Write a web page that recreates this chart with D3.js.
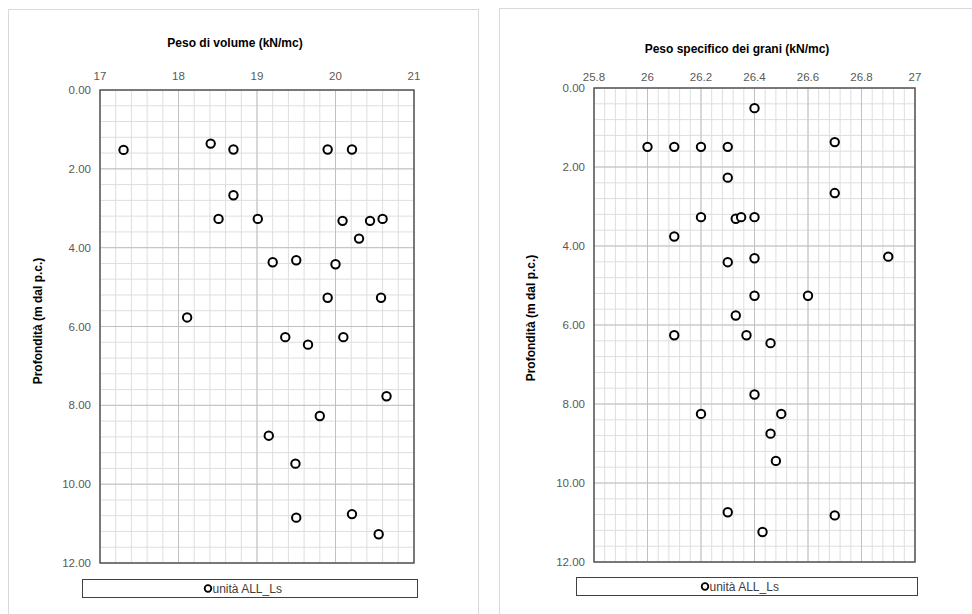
<!DOCTYPE html>
<html>
<head>
<meta charset="utf-8">
<script src="https://cdn.jsdelivr.net/npm/d3@7"></script>
<style>
  body { margin: 0; background: #fff; }
  text { font-family: "Liberation Sans", Arial, sans-serif; }
</style>
</head>
<body>
<script>
// Peso di volume (kN/mc) vs profondità
const volX = [17.3, 18.41, 18.7, 19.9, 20.21, 18.7, 18.51, 19.01, 20.09, 20.44, 20.6, 20.3, 19.2, 19.5, 20.0,
              19.9, 20.58, 18.11, 19.36, 20.1, 19.65, 20.65, 19.8, 19.15, 19.49, 19.5, 20.21, 20.55];
const volDepth = [1.52, 1.36, 1.51, 1.51, 1.51, 2.67, 3.27, 3.27, 3.32, 3.32, 3.27, 3.77, 4.37, 4.32, 4.42,
                  5.27, 5.27, 5.77, 6.27, 6.27, 6.46, 7.77, 8.27, 8.77, 9.48, 10.85, 10.76, 11.27];

// Peso specifico dei grani (kN/mc) vs profondità
const graniX = [26.4, 26.0, 26.1, 26.2, 26.3, 26.7, 26.3, 26.7, 26.2, 26.33, 26.35, 26.4, 26.1, 26.3, 26.4, 26.9,
                26.4, 26.6, 26.33, 26.1, 26.37, 26.46, 26.4, 26.2, 26.5, 26.46, 26.48, 26.3, 26.7, 26.43];
const graniDepth = [0.51, 1.49, 1.49, 1.49, 1.49, 1.37, 2.27, 2.66, 3.27, 3.31, 3.27, 3.27, 3.76, 4.41, 4.31, 4.27,
                    5.26, 5.26, 5.76, 6.26, 6.26, 6.46, 7.76, 8.25, 8.25, 8.75, 9.44, 10.74, 10.82, 11.24];

const volTicks = [17, 18, 19, 20, 21];
const graniTicks = [25.8, 26, 26.2, 26.4, 26.6, 26.8, 27];
const depthTicks = [0, 2, 4, 6, 8, 10, 12];

const yTitle = "Profondità (m dal p.c.)";
const legendLabel = "unità ALL_Ls";

const svg = d3.select("body").append("svg")
  .attr("width", 972)
  .attr("height", 614);

function drawChart(o) {
  const g = svg.append("g");

  // cornice del pannello
  g.append("rect")
    .attr("x", o.panel[0] + 0.5).attr("y", o.panel[1] + 0.5)
    .attr("width", o.panel[2]).attr("height", o.panel[3])
    .attr("fill", "#fff").attr("stroke", "#d9d9d9");

  const x = d3.scaleLinear().domain(o.xDomain).range([o.left, o.right]);
  const y = d3.scaleLinear().domain([0, 12]).range([o.top, o.bottom]);

  // griglia secondaria
  const xMinor = d3.range(o.xDomain[0], o.xDomain[1] + 1e-9, o.xMinor);
  const yMinor = d3.range(0, 12 + 1e-9, 0.4);
  g.selectAll(".vminor").data(xMinor).enter().append("line")
    .attr("x1", d => x(d)).attr("x2", d => x(d))
    .attr("y1", o.top).attr("y2", o.bottom)
    .attr("stroke", "#dedede").attr("stroke-width", 1);
  g.selectAll(".hminor").data(yMinor).enter().append("line")
    .attr("x1", o.left).attr("x2", o.right)
    .attr("y1", d => y(d)).attr("y2", d => y(d))
    .attr("stroke", "#dedede").attr("stroke-width", 1);

  // griglia principale
  g.selectAll(".vmajor").data(o.xTicks).enter().append("line")
    .attr("x1", d => x(d)).attr("x2", d => x(d))
    .attr("y1", o.top).attr("y2", o.bottom)
    .attr("stroke", "#c0c0c0").attr("stroke-width", 1);
  g.selectAll(".hmajor").data(depthTicks).enter().append("line")
    .attr("x1", o.left).attr("x2", o.right)
    .attr("y1", d => y(d)).attr("y2", d => y(d))
    .attr("stroke", "#c0c0c0").attr("stroke-width", 1);

  g.append("rect")
    .attr("x", o.left).attr("y", o.top)
    .attr("width", o.right - o.left).attr("height", o.bottom - o.top)
    .attr("fill", "none").attr("stroke", "#595959").attr("stroke-width", 1.5);

  // etichette asse x in alto
  g.selectAll(".xlab").data(o.xTicks).enter().append("text")
    .attr("x", d => x(d)).attr("y", o.xLabY)
    .attr("text-anchor", "middle")
    .attr("font-size", 11.5).attr("fill", "#595959")
    .text(d => d);

  // etichette asse y
  g.selectAll(".ylab").data(depthTicks).enter().append("text")
    .attr("x", o.yLabX).attr("y", d => y(d) + 4)
    .attr("text-anchor", "end")
    .attr("font-size", 11.5).attr("fill", "#595959")
    .text(d => d3.format(".2f")(d));

  g.append("text")
    .attr("x", o.titleX).attr("y", o.titleY)
    .attr("text-anchor", "middle")
    .attr("font-size", 12).attr("font-weight", "bold")
    .text(o.title);

  g.append("text")
    .attr("transform", `translate(${o.yTitleX},${o.yTitleY}) rotate(-90)`)
    .attr("text-anchor", "middle")
    .attr("font-size", 12).attr("font-weight", "bold")
    .text(yTitle);

  // punti
  g.selectAll(".pt").data(o.xs.map((v, i) => [v, o.ys[i]])).enter().append("circle")
    .attr("cx", d => x(d[0])).attr("cy", d => y(d[1]))
    .attr("r", 4.2)
    .attr("fill", "#fff").attr("stroke", "#000").attr("stroke-width", 2);

  // legenda
  const lg = o.legend;
  g.append("rect")
    .attr("x", lg[0] + 0.5).attr("y", lg[1] + 0.5)
    .attr("width", lg[2] - lg[0]).attr("height", lg[3] - lg[1])
    .attr("fill", "#fff").attr("stroke", "#404040");
  const cy = (lg[1] + lg[3]) / 2 + 0.5;
  g.append("circle")
    .attr("cx", o.legendMarkX).attr("cy", cy).attr("r", 3.3)
    .attr("fill", "#fff").attr("stroke", "#000").attr("stroke-width", 1.8);
  g.append("text")
    .attr("x", o.legendMarkX + 4.5).attr("y", cy + 4.2)
    .attr("font-size", 12).attr("fill", "#404040")
    .text(legendLabel);
}

drawChart({
  panel: [8, 9, 470, 620],
  xDomain: [17, 21], xTicks: volTicks, xMinor: 0.2,
  left: 100, right: 414, top: 90, bottom: 563,
  xLabY: 80, yLabX: 91,
  title: "Peso di volume (kN/mc)", titleX: 235, titleY: 47,
  yTitleX: 42, yTitleY: 321,
  xs: volX, ys: volDepth,
  legend: [82, 579, 417, 597], legendMarkX: 208
});

drawChart({
  panel: [499, 8, 480, 620],
  xDomain: [25.8, 27], xTicks: graniTicks, xMinor: 0.04,
  left: 594, right: 915, top: 88, bottom: 562,
  xLabY: 81, yLabX: 585,
  title: "Peso specifico dei grani (kN/mc)", titleX: 737, titleY: 53,
  yTitleX: 535, yTitleY: 318,
  xs: graniX, ys: graniDepth,
  legend: [576, 577, 917, 595], legendMarkX: 705
});
</script>
</body>
</html>
